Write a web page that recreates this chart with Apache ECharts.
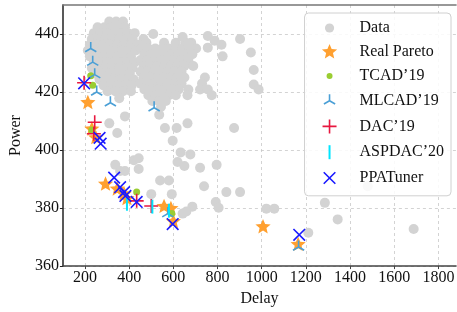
<!DOCTYPE html>
<html>
<head>
<meta charset="utf-8">
<script src="https://cdn.jsdelivr.net/npm/echarts@6/dist/echarts.min.js"></script>
<style>
  html, body { margin: 0; padding: 0; background: #fff; }
  #chart { width: 457px; height: 312px; }
</style>
</head>
<body>
<div id="chart"></div>
<script>
/* gray cloud of explored configurations */
const dataDelay = [
  310, 341, 372,
  257, 288, 319, 350, 381,
  240, 271, 302, 332, 363, 394, 425,
  231, 262, 293, 324, 355, 385, 416, 465,
  222, 253, 284, 315, 346, 377, 408, 438,
  213, 244, 275, 306, 337, 368, 399, 430,
  222, 253, 284, 315, 346, 377, 408,
  240, 271, 302, 332, 363, 394, 425,
  231, 262, 293, 324, 355, 385, 416,
  249, 279, 310, 341, 372, 403,
  266, 297, 328, 359, 390, 421,
  284, 315, 346, 381, 412,
  302, 337, 372, 408,
  478, 558, 611, 655, 681,
  456, 487, 518, 549, 580, 611, 642, 673, 703,
  469, 500, 531, 562, 593, 624, 655, 686,
  452, 483, 513, 544, 575, 606, 637, 668,
  465, 496, 527, 558, 589, 619, 650, 690,
  452, 483, 513, 544, 575, 606, 637,
  465, 496, 527, 558, 589, 619, 650, 743,
  452, 483, 513, 544, 575, 606, 637, 730,
  469, 500, 531, 562, 593, 624, 668, 721, 756,
  487, 518, 549, 580, 611, 664, 774,
  505, 536, 566,
  544,
  509, 642, 668, 756, 787, 818, 756, 823, 902, 951, 964, 964, 986,
  381, 310, 346, 355, 536, 562, 615, 664, 875, 597, 633, 677,
  421, 443, 619, 650, 337, 359, 381, 443, 721, 796, 540, 580,
  739, 840, 902, 500, 593, 792, 805, 686, 659, 642, 1021, 1057,
  1286, 1344, 1480, 1688, 1211
];
const dataPower = [
  444.3, 444.3, 444.3,
  442.3, 442.3, 442.3, 442.3, 442.3,
  440.3, 440.3, 440.3, 440.3, 440.3, 440.3, 440.3,
  438.3, 438.3, 438.3, 438.3, 438.3, 438.3, 438.3, 438.3,
  436.3, 436.3, 436.3, 436.3, 436.3, 436.3, 436.3, 436.3,
  434.3, 434.3, 434.3, 434.3, 434.3, 434.3, 434.3, 434.3,
  432.3, 432.3, 432.3, 432.3, 432.3, 432.3, 432.3,
  430.3, 430.3, 430.3, 430.3, 430.3, 430.3, 430.3,
  428.3, 428.3, 428.3, 428.3, 428.3, 428.3, 428.3,
  426.3, 426.3, 426.3, 426.3, 426.3, 426.3,
  424.3, 424.3, 424.3, 424.3, 424.3, 424.3,
  422.3, 422.3, 422.3, 422.3, 422.3,
  420.3, 420.3, 420.3, 420.3,
  437.0, 437.0, 437.0, 437.0, 437.0,
  435.0, 435.0, 435.0, 435.0, 435.0, 435.0, 435.0, 435.0, 435.0,
  433.0, 433.0, 433.0, 433.0, 433.0, 433.0, 433.0, 433.0,
  431.0, 431.0, 431.0, 431.0, 431.0, 431.0, 431.0, 431.0,
  429.0, 429.0, 429.0, 429.0, 429.0, 429.0, 429.0, 429.0,
  427.0, 427.0, 427.0, 427.0, 427.0, 427.0, 427.0,
  425.0, 425.0, 425.0, 425.0, 425.0, 425.0, 425.0, 425.0,
  422.9, 422.9, 422.9, 422.9, 422.9, 422.9, 422.9, 422.9,
  420.9, 420.9, 420.9, 420.9, 420.9, 420.9, 420.9, 420.9, 420.9,
  418.9, 418.9, 418.9, 418.9, 418.9, 418.9, 418.9,
  416.9, 416.9, 416.9,
  414.9,
  440.0, 439.0, 436.7, 439.3, 437.7, 436.3, 435.3, 432.3, 438.3, 433.6, 427.6, 422.6, 420.9,
  411.6, 409.2, 405.9, 417.9, 412.2, 407.6, 407.6, 409.2, 407.6, 403.2, 399.2, 398.5,
  396.5, 397.2, 395.9, 394.5, 394.9, 392.8, 392.8, 393.5, 393.9, 394.9, 389.5, 389.5,
  387.5, 385.5, 385.5, 384.8, 384.8, 382.1, 380.1, 380.5, 378.8, 378.1, 379.8, 379.8,
  381.8, 376.1, 387.5, 372.8, 371.5
];

const paretoDelay = [213, 231, 249, 293, 346, 377, 390, 558, 589, 600, 1006, 1165];
const paretoPower = [416.3, 407.2, 404.2, 388.2, 386.5, 384.8, 383.2, 380.5, 379.8, 375.3, 373.5, 367.4];

const tcadDelay = [226, 235, 231, 434, 593];
const tcadPower = [425.6, 422.3, 406.9, 385.5, 378.1];

const mlcadDelay = [226, 235, 244, 253, 315, 513, 575, 1167];
const mlcadPower = [435.0, 430.3, 426.0, 420.0, 416.3, 414.6, 378.1, 366.6];

const dacDelay = [196, 244, 240, 434, 500];
const dacPower = [423.2, 409.6, 405.6, 382.5, 380.7];

const aspdacDelay = [390, 505, 580];
const aspdacPower = [381.5, 380.5, 379.1];

const ppaDelay = [196, 266, 271, 332, 359, 377, 383, 434, 597, 1170];
const ppaPower = [423.0, 404.2, 402.2, 390.5, 387.2, 385.5, 384.2, 382.1, 374.5, 370.8];

const xTicks = [200, 400, 600, 800, 1000, 1200, 1400, 1600, 1800];
const yTicks = [360, 380, 400, 420, 440];

const NAMES = ['Data', 'Real Pareto', 'TCAD’19', 'MLCAD’19', 'DAC’19', 'ASPDAC’20', 'PPATuner'];

/* every marker lives in a -8..8 box; the two zero-length corner segments keep it centred */
const PAD = 'M-8,-8 L-8,-8 M8,8 L8,8 ';
const circ = r => `M${-r},0 A${r},${r} 0 1 0 ${r},0 A${r},${r} 0 1 0 ${-r},0 Z`;
const star = r => {
  let d = '';
  for (let i = 0; i < 10; i++) {
    const rr = i % 2 ? r * 0.45 : r;
    const a = -Math.PI / 2 + i * Math.PI / 5;
    d += (i ? ' L' : 'M') + (rr * Math.cos(a)).toFixed(2) + ',' + (rr * Math.sin(a)).toFixed(2);
  }
  return d + ' Z';
};
const ICONS = {
  'Data': 'path://' + PAD + circ(4.6),
  'Real Pareto': 'path://' + PAD + star(8),
  'TCAD’19': 'path://' + PAD + circ(3),
  'MLCAD’19': 'path://' + PAD + 'M0,0 L0,-6.5 M0,0 L-5.6,3.25 M0,0 L5.6,3.25',
  'DAC’19': 'path://' + PAD + 'M-7,0 L7,0 M0,-7 L0,7',
  'ASPDAC’20': 'path://' + PAD + 'M0,-7 L0,7',
  'PPATuner': 'path://' + PAD + 'M-5.8,-5.8 L5.8,5.8 M-5.8,5.8 L5.8,-5.8'
};
const MARKS = Object.assign({}, ICONS, { 'TCAD’19': 'circle' });
const SIZES = { 'TCAD’19': 7 };
const STYLES = {
  'Data': { color: '#d3d3d3', borderWidth: 0, opacity: 1 },
  'Real Pareto': { color: '#ffa030', borderWidth: 0, opacity: 1 },
  'TCAD’19': { color: '#9acd32', borderWidth: 0, opacity: 1 },
  'MLCAD’19': { color: 'rgba(0,0,0,0)', borderColor: '#4a9fd6', borderWidth: 1.6, opacity: 1 },
  'DAC’19': { color: 'rgba(0,0,0,0)', borderColor: '#e8173f', borderWidth: 1.6, opacity: 1 },
  'ASPDAC’20': { color: 'rgba(0,0,0,0)', borderColor: '#00e5ff', borderWidth: 2, opacity: 1 },
  'PPATuner': { color: 'rgba(0,0,0,0)', borderColor: '#1a1aff', borderWidth: 1.6, opacity: 1 }
};
const SERIES_XY = {
  'Data': [dataDelay, dataPower],
  'Real Pareto': [paretoDelay, paretoPower],
  'TCAD’19': [tcadDelay, tcadPower],
  'MLCAD’19': [mlcadDelay, mlcadPower],
  'DAC’19': [dacDelay, dacPower],
  'ASPDAC’20': [aspdacDelay, aspdacPower],
  'PPATuner': [ppaDelay, ppaPower]
};
const pairs = n => SERIES_XY[n][0].map((d, k) => [d, SERIES_XY[n][1][k]]);

const FONT = '"Liberation Serif", "DejaVu Serif", serif';
const chart = echarts.init(document.getElementById('chart'), null, { renderer: 'canvas' });

/* gray cloud: plain opaque discs placed through the axes, so overlaps merge into one blob */
const cloudSeries = {
  name: 'Data',
  type: 'custom',
  z: 2,
  silent: true,
  encode: { x: 0, y: 1 },
  data: pairs('Data'),
  renderItem: (params, api) => {
    const p = api.coord([api.value(0), api.value(1)]);
    return { type: 'circle', shape: { cx: p[0], cy: p[1], r: 5 }, style: { fill: '#d3d3d3' } };
  }
};

const markerSeries = NAMES.slice(1).map((n, i) => ({
  name: n,
  type: 'scatter',
  symbol: MARKS[n],
  symbolSize: SIZES[n] || 16,
  z: 3 + i,
  emphasis: { disabled: true },
  itemStyle: Object.assign({}, STYLES[n]),
  data: pairs(n)
}));

chart.setOption({
  animation: false,
  backgroundColor: '#fff',
  grid: { left: 54, right: 0, top: 5, bottom: 38 },
  legend: {
    orient: 'vertical',
    right: 6,
    top: 13,
    itemWidth: 16,
    itemHeight: 16,
    itemGap: 8,
    padding: [7, 7, 9, 16],
    backgroundColor: 'rgba(255,255,255,0.85)',
    borderColor: '#d0d0d0',
    borderWidth: 1,
    borderRadius: 4,
    textStyle: { fontFamily: FONT, fontSize: 16, color: '#111', padding: [0, 0, 0, 17] },
    data: NAMES.map(n => ({ name: n, icon: ICONS[n], itemStyle: Object.assign({}, STYLES[n]) }))
  },
  xAxis: [{
    type: 'value',
    min: 100,
    max: 1880,
    name: 'Delay',
    nameLocation: 'middle',
    nameGap: 18,
    nameTextStyle: { fontFamily: FONT, fontSize: 16, color: '#111' },
    axisLine: { show: true, onZero: false, lineStyle: { color: '#444', width: 1.5 } },
    axisTick: { show: true, length: 3, customValues: xTicks, lineStyle: { color: '#444' } },
    axisLabel: { customValues: xTicks, formatter: v => String(v), fontFamily: FONT, fontSize: 16, color: '#111', margin: 4 },
    splitLine: { show: true, lineStyle: { color: '#c8c8c8', type: [3, 3], width: 0.8 } }
  }, {
    type: 'value',
    position: 'top',
    min: 100,
    max: 1880,
    axisLine: { show: true, lineStyle: { color: '#777', width: 1.5 } },
    axisTick: { show: false },
    axisLabel: { show: false },
    splitLine: { show: false }
  }],
  yAxis: {
    type: 'value',
    min: 360,
    max: 450,
    interval: 20,
    name: 'Power',
    nameLocation: 'middle',
    nameGap: 36,
    nameTextStyle: { fontFamily: FONT, fontSize: 16, color: '#111' },
    axisLine: { show: true, onZero: false, lineStyle: { color: '#222', width: 1.5 } },
    axisTick: { show: true, length: 3, customValues: yTicks, lineStyle: { color: '#222' } },
    axisLabel: { customValues: yTicks, formatter: v => String(v), fontFamily: FONT, fontSize: 16, color: '#111', margin: 4 },
    splitLine: { show: true, lineStyle: { color: '#c8c8c8', type: [3, 3], width: 0.8 } }
  },
  series: [cloudSeries].concat(markerSeries)
});
</script>
</body>
</html>
